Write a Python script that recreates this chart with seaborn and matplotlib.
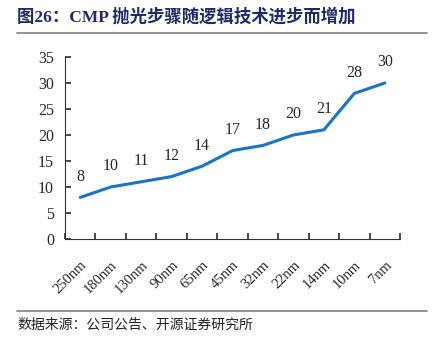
import matplotlib
matplotlib.use("Agg")
import matplotlib.pyplot as plt
import seaborn as sns
import pandas as pd

nodes = ["250nm", "180nm", "130nm", "90nm", "65nm", "45nm", "32nm", "22nm", "14nm", "10nm", "7nm"]
steps = [8, 10, 11, 12, 14, 17, 18, 20, 21, 28, 30]
yticks = [0, 5, 10, 15, 20, 25, 30, 35]

sns.set_theme(style="ticks")
plt.rcParams['font.family'] = ['Liberation Serif', 'Noto Sans CJK SC']

df = pd.DataFrame({"node": nodes, "steps": steps})

fig = plt.figure(figsize=(4.44, 3.44), dpi=100)
ax = fig.add_axes([65/444, 1-239/344, 335/444, 182/344])
sns.lineplot(data=df, x="node", y="steps", sort=False, color="#1874CD", linewidth=2.2, ax=ax)
ax.set_xlim(-0.5, len(nodes) - 0.5)
ax.set_ylim(0, 35)
ax.set_yticks(yticks)
ax.set_xlabel("")
ax.set_ylabel("")
for s in ["top", "right"]:
    ax.spines[s].set_visible(False)
for s in ["left", "bottom"]:
    ax.spines[s].set_color("#333333")
    ax.spines[s].set_linewidth(0.8)
ax.set_xticks([i + 0.5 for i in range(-1, len(nodes))], minor=False)
ax.set_xticklabels([""] * (len(nodes) + 1))
ax.set_xticks(range(len(nodes)), minor=True)
ax.set_xticklabels(nodes, minor=True, rotation=45, ha="right", rotation_mode="anchor", fontsize=10.5)
ax.tick_params(axis="x", which="minor", length=0, pad=14)
ax.tick_params(axis="x", which="major", length=4, direction="in", color="#333333")
ax.tick_params(axis="y", length=4, direction="in", labelsize=11.5, pad=8, color="#333333")
for i, v in enumerate(steps):
    ax.annotate(str(v), (i, v), xytext=(0, 9), textcoords="offset points",
                ha="center", va="bottom", fontsize=11.5)

fig.text(17/444, 1-17/344, "图26：CMP 抛光步骤随逻辑技术进步而增加", fontsize=12.5, fontweight="bold",
         color="#1F2A6B", va="center", ha="left", family=['Liberation Serif', 'Noto Sans CJK SC'])
fig.add_artist(plt.Line2D([17/444, 427/444], [1-33/344, 1-33/344], color="#808080", linewidth=1.2))
fig.add_artist(plt.Line2D([17/444, 427/444], [1-311/344, 1-311/344], color="#808080", linewidth=1.2))
fig.text(17/444, 1-325/344, "数据来源：公司公告、开源证券研究所", fontsize=10, color="#222222",
         va="center", ha="left", family=['Noto Sans CJK SC'])

fig.savefig("out.png", dpi=100)
